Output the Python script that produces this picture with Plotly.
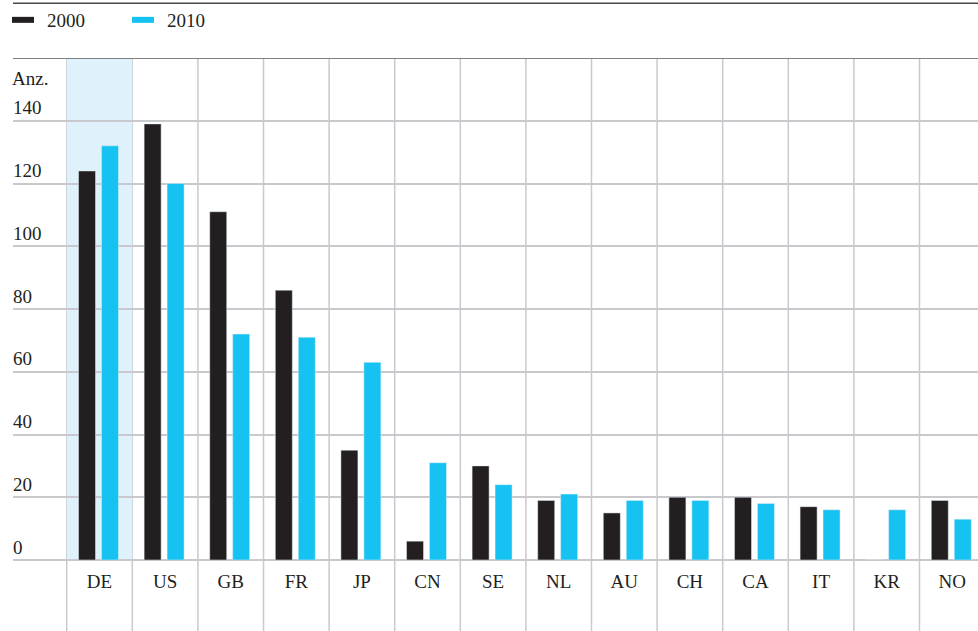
import plotly.graph_objects as go

countries = ["DE", "US", "GB", "FR", "JP", "CN", "SE", "NL", "AU", "CH", "CA", "IT", "KR", "NO"]
values_2000 = [124, 139, 111, 86, 35, 6, 30, 19, 15, 20, 20, 17, 0, 19]
values_2010 = [132, 120, 72, 71, 63, 31, 24, 21, 19, 19, 18, 16, 16, 13]
y_ticks = [0, 20, 40, 60, 80, 100, 120, 140]
y_max = 160
series_names = ["2000", "2010"]
highlight = "DE"

BLACK = "#231f20"
CYAN = "#15c2f2"
GRID = "#c9c9cd"
FONT = "Liberation Serif, Times New Roman, serif"

fig = go.Figure()
fig.add_trace(go.Bar(x=countries, y=values_2000, name=series_names[0], marker_color=BLACK,
                     width=0.259, offset=-0.32, showlegend=False))
fig.add_trace(go.Bar(x=countries, y=values_2010, name=series_names[1], marker_color=CYAN,
                     width=0.259, offset=0.03, showlegend=False))
# legend entries (short thick swatches)
fig.add_trace(go.Scatter(x=[None], y=[None], mode="lines", name=series_names[0],
                         line=dict(color=BLACK, width=6, dash="22px,30px")))
fig.add_trace(go.Scatter(x=[None], y=[None], mode="lines", name=series_names[1],
                         line=dict(color=CYAN, width=6, dash="22px,30px")))

shapes = []
hi = countries.index(highlight)
shapes.append(dict(type="rect", xref="x", yref="y", x0=hi - 0.5, x1=hi + 0.5, y0=0, y1=y_max,
                   fillcolor="#dff1fa", line_width=0, layer="below"))
for i in range(len(countries) + 1):
    shapes.append(dict(type="line", xref="x", yref="paper", x0=i - 0.5, x1=i - 0.5,
                       y0=-0.145, y1=1, line=dict(color=GRID, width=1.5), layer="between"))
shapes.append(dict(type="line", xref="paper", yref="y", x0=0, x1=1, y0=y_max, y1=y_max,
                   line=dict(color="#808080", width=2)))
shapes.append(dict(type="line", xref="paper", yref="paper", x0=0, x1=1, y0=1.109, y1=1.109,
                   line=dict(color="#4a4a4a", width=1.5)))

fig.update_layout(
    width=978, height=631,
    margin=dict(l=13, r=0, t=58, b=71),
    paper_bgcolor="white", plot_bgcolor="white",
    font=dict(family=FONT, size=19, color=BLACK),
    barmode="overlay",
    shapes=shapes,
    legend=dict(orientation="h", x=-0.0062, xanchor="left", y=1.0757, yanchor="middle",
                entrywidth=75, itemwidth=30,
                font=dict(family=FONT, size=19, color=BLACK), bgcolor="rgba(0,0,0,0)"),
    xaxis=dict(type="category", categoryorder="array", categoryarray=countries,
               range=[-1.319, 13.392], showgrid=False, zeroline=False, showline=False,
               ticks="", tickfont=dict(family=FONT, size=19, color=BLACK), ticklabelstandoff=8),
    yaxis=dict(range=[0, y_max], tickvals=y_ticks, ticktext=[str(v) for v in y_ticks],
               showgrid=True, gridcolor=GRID, gridwidth=1.5,
               zeroline=True, zerolinecolor=GRID, zerolinewidth=1.5,
               ticklabelposition="inside", ticklabelshift=-13, ticklabelstandoff=-3,
               ticks="", tickfont=dict(family=FONT, size=19, color=BLACK)),
    annotations=[dict(text="Anz.", xref="paper", yref="y", x=0, y=y_max, xanchor="left",
                      xshift=-3, yanchor="middle", yshift=-20, showarrow=False,
                      font=dict(family=FONT, size=19, color=BLACK))],
)

fig.write_html("out.html", config={"displayModeBar": False},
               post_script="document.body.style.margin='0';")
